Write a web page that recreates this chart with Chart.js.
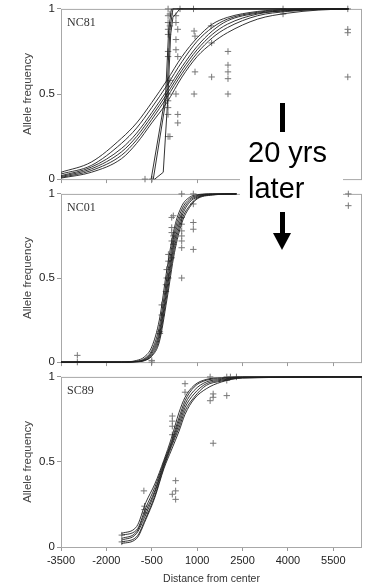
<!DOCTYPE html>
<html>
<head>
<meta charset="utf-8">
<script src="https://cdn.jsdelivr.net/npm/chart.js@4/dist/chart.umd.min.js"></script>
<style>
  body { margin: 0; background: #fff; }
  #wrap { position: relative; width: 372px; height: 585px; overflow: hidden; background: #fff; }
  canvas { position: absolute; left: 0; }
  #note { position: absolute; left: 240px; top: 140px; width: 103px; height: 68px; background: #fff; z-index: 2; }
  .bar { position: absolute; width: 5px; background: #000; z-index: 3; }
  .txt { position: absolute; left: 248px; font: 29px/29px 'Liberation Sans', Arial, sans-serif; color: #000; z-index: 3; white-space: nowrap; }
  .head { position: absolute; left: 273px; top: 233px; width: 0; height: 0; border-left: 9px solid transparent; border-right: 9px solid transparent; border-top: 17px solid #000; z-index: 3; }
</style>
</head>
<body>
<div id="wrap">
  <canvas id="p1" width="372" height="188" style="top:0"></canvas>
  <canvas id="p2" width="372" height="186" style="top:185px"></canvas>
  <canvas id="p3" width="372" height="217" style="top:368px"></canvas>
  <div id="note"></div>
  <div class="bar" style="left:280px;top:103px;height:29px"></div>
  <div class="txt" style="top:138px">20 yrs</div>
  <div class="txt" style="top:174px">later</div>
  <div class="bar" style="left:280px;top:212px;height:22px"></div>
  <div class="head"></div>
</div>
<script>
// axis ticks
const xTicks = [-3500, -2000, -500, 1000, 2500, 4000, 5500];
const yTicks = [0, 0.5, 1];

// NC81: fitted clines
const nc81X = [-3500, -2500, -1500, -1000, -500, 0, 500, 1000, 1500, 2000, 3000, 4000, 5000, 6000];
const nc81Fits = [
  [0.04, 0.10, 0.24, 0.33, 0.45, 0.58, 0.72, 0.83, 0.91, 0.95, 0.985, 0.997, 1, 1],
  [0.03, 0.08, 0.21, 0.30, 0.42, 0.55, 0.69, 0.81, 0.89, 0.94, 0.98, 0.995, 0.999, 1],
  [0.02, 0.07, 0.18, 0.27, 0.39, 0.52, 0.66, 0.78, 0.87, 0.93, 0.975, 0.99, 0.998, 1],
  [0.015, 0.06, 0.16, 0.25, 0.37, 0.50, 0.64, 0.76, 0.85, 0.91, 0.97, 0.99, 0.997, 1],
  [0.01, 0.05, 0.14, 0.23, 0.35, 0.48, 0.62, 0.74, 0.83, 0.89, 0.96, 0.985, 0.996, 1],
  [0.006, 0.04, 0.12, 0.21, 0.33, 0.45, 0.60, 0.72, 0.80, 0.86, 0.94, 0.975, 0.993, 1],
];
// NC81: steep step-like fits
const nc81StepX = [
  [-520, -40, 60, 150, 6000],
  [-450, 0, 100, 200, 6000],
  [-400, -120, 40, 125, 200, 430, 6000],
];
const nc81StepY = [
  [0, 0.5, 0.88, 1, 1],
  [0, 0.5, 0.88, 1, 1],
  [0, 0.04, 0.5, 0.85, 0.95, 1, 1],
];
const nc81PtX = [-723, -492, 40, 40, 40, 40, 40, 40, 40, 40, 40, 40, 40, 40, 100, 100, 100, 100,
  300, 300, 300, 300, 300, 360, 360, 360, 360, 434, 880, 900, 930, 930, 900,
  1460, 1480, 1480, 2020, 2020, 2020, 2020, 2020, 3840, 3840, 5980, 5980, 5980, 5980];
const nc81PtY = [0, 0, 1, 0.96, 0.92, 0.88, 0.85, 0.75, 0.72, 0.5, 0.46, 0.42, 0.38, 0.25, 0.97, 0.9, 0.58, 0.25,
  0.96, 0.92, 0.82, 0.76, 0.5, 0.88, 0.72, 0.38, 0.33, 1, 1, 0.87, 0.84, 0.63, 0.5,
  0.9, 0.8, 0.6, 0.75, 0.67, 0.63, 0.59, 0.5, 1, 0.97, 1, 0.88, 0.86, 0.6];

// NC01
const nc01X = [-3500, -1500, -1000, -750, -500, -250, 0, 250, 500, 750, 1000, 1500, 2300];
const nc01Fits = [
  [0, 0, 0.01, 0.03, 0.09, 0.25, 0.55, 0.8, 0.93, 0.98, 0.995, 1, 1],
  [0, 0, 0.005, 0.02, 0.07, 0.21, 0.5, 0.77, 0.91, 0.97, 0.99, 1, 1],
  [0, 0, 0.004, 0.015, 0.06, 0.18, 0.46, 0.74, 0.89, 0.96, 0.985, 0.998, 1],
  [0, 0, 0.003, 0.012, 0.05, 0.16, 0.43, 0.71, 0.87, 0.95, 0.98, 0.997, 1],
  [0, 0, 0.002, 0.01, 0.04, 0.14, 0.4, 0.68, 0.85, 0.93, 0.975, 0.995, 1],
  [0, 0, 0.002, 0.008, 0.035, 0.12, 0.37, 0.65, 0.83, 0.92, 0.97, 0.993, 1],
];
const nc01PtX = [-2960, -2960, -500, -500, -230, -230, -170, -170, -30, -30, -6, -6, 50, 50, 50,
  160, 160, 160, 160, 160, 213, 213, 213, 490, 490, 490, 490, 490, 490, 490, 490,
  874, 874, 874, 874, 874, 5998, 5998];
const nc01PtY = [0.04, 0, 0.01, 0, 0.18, 0.17, 0.34, 0.28, 0.46, 0.42, 0.55, 0.5, 0.5, 0.6, 0.64,
  0.62, 0.72, 0.77, 0.8, 0.86, 0.87, 0.75, 0.7, 1, 0.86, 0.82, 0.78, 0.75, 0.72, 0.68, 0.5,
  1, 0.94, 0.83, 0.79, 0.67, 1, 0.93];

// SC89
const sc89X = [-1500, -1000, -700, -400, -100, 150, 400, 600, 900, 1300, 1800, 2500, 6450];
const sc89Fits = [
  [0.08, 0.12, 0.26, 0.37, 0.51, 0.64, 0.79, 0.88, 0.95, 0.985, 0.995, 1, 1],
  [0.07, 0.10, 0.23, 0.35, 0.50, 0.62, 0.76, 0.86, 0.94, 0.98, 0.99, 1, 1],
  [0.05, 0.09, 0.21, 0.33, 0.49, 0.61, 0.74, 0.84, 0.92, 0.97, 0.985, 0.998, 1],
  [0.04, 0.08, 0.19, 0.32, 0.48, 0.60, 0.72, 0.82, 0.90, 0.96, 0.98, 0.997, 1],
  [0.03, 0.06, 0.17, 0.30, 0.47, 0.59, 0.70, 0.80, 0.88, 0.95, 0.975, 0.995, 1],
  [0.02, 0.05, 0.16, 0.29, 0.46, 0.57, 0.68, 0.78, 0.87, 0.93, 0.97, 0.993, 1],
];
const sc89PtX = [-1490, -1490, -760, -740, -740, -720, 180, 180, 180, 180, 180, 290, 290, 290,
  600, 600, 1430, 1430, 1530, 1530, 1530, 1980, 1980, 1980, 2100, 2300];
const sc89PtY = [0.07, 0.03, 0.33, 0.24, 0.22, 0.2, 0.77, 0.74, 0.71, 0.66, 0.31, 0.39, 0.33, 0.28,
  0.96, 0.91, 1, 0.86, 0.9, 0.88, 0.61, 1, 0.98, 0.89, 1, 1];

const sans = "'Liberation Sans', Arial, sans-serif";
const toPoints = (xs, ys) => xs.map((x, i) => ({x: x, y: ys[i]}));
const plain = v => String(v);

const curve = (xs, ys, smooth) => ({
  data: toPoints(xs, ys),
  showLine: true,
  borderColor: 'rgba(30, 30, 30, 0.9)',
  borderWidth: 1,
  pointRadius: 0,
  fill: false,
  cubicInterpolationMode: smooth ? 'monotone' : 'default',
  tension: 0,
  clip: 2,
});

const crosses = (xs, ys) => ({
  data: toPoints(xs, ys),
  showLine: false,
  pointStyle: 'cross',
  pointRadius: 3.2,
  borderColor: '#777',
  borderWidth: 1,
  clip: 5,
});

const framePlugin = {
  id: 'frame',
  beforeDatasetsDraw(chart) {
    const {ctx, chartArea: a} = chart;
    ctx.save();
    ctx.strokeStyle = '#a8a8a8';
    ctx.lineWidth = 1;
    ctx.strokeRect(a.left + 0.5, a.top + 0.5, a.right - a.left - 1, a.bottom - a.top);
    ctx.restore();
  },
  afterDraw(chart, args, opts) {
    const {ctx, chartArea: a} = chart;
    ctx.save();
    ctx.font = "12px 'Liberation Serif', 'Times New Roman', serif";
    ctx.fillStyle = '#333';
    ctx.textBaseline = 'alphabetic';
    ctx.fillText(opts.label, a.left + 6, a.top + 17);
    ctx.restore();
  }
};

const panel = (id, label, datasets, bottom) => new Chart(document.getElementById(id), {
  type: 'scatter',
  data: {datasets: datasets},
  plugins: [framePlugin],
  options: {
    responsive: false,
    animation: false,
    events: [],
    layout: {padding: {top: 8, right: 10, left: 0, bottom: 0}},
    scales: {
      x: {
        type: 'linear',
        min: -3500,
        max: 6450,
        afterBuildTicks: s => { s.ticks = xTicks.map(v => ({value: v})); },
        afterFit: s => { s.height = bottom ? 38 : 8; },
        grid: {drawOnChartArea: false, drawTicks: true, tickLength: 4, color: '#999'},
        border: {display: false},
        ticks: {display: bottom, autoSkip: false, maxRotation: 0, padding: 3, color: '#222', callback: plain, font: {family: sans, size: 11}},
        title: {display: bottom, text: 'Distance from center', color: '#333', padding: {top: 0, bottom: 0}, font: {family: sans, size: 10.5}},
      },
      y: {
        type: 'linear',
        min: 0,
        max: 1,
        afterBuildTicks: s => { s.ticks = yTicks.map(v => ({value: v})); },
        afterFit: s => { s.width = 61; },
        grid: {drawOnChartArea: false, drawTicks: true, tickLength: 4, color: '#999'},
        border: {display: false},
        ticks: {padding: 2, color: '#222', callback: plain, font: {family: sans, size: 11.5}},
        title: {display: true, text: 'Allele frequency', color: '#444', padding: {top: 21, bottom: 0}, font: {family: sans, size: 11.5}},
      },
    },
    plugins: {
      legend: {display: false},
      tooltip: {enabled: false},
      frame: {label: label},
    }
  }
});

panel('p1', 'NC81', [
  ...nc81Fits.map(ys => curve(nc81X, ys, true)),
  ...nc81StepX.map((xs, i) => curve(xs, nc81StepY[i], false)),
  crosses(nc81PtX, nc81PtY),
], false);

panel('p2', 'NC01', [
  ...nc01Fits.map(ys => curve(nc01X, ys, true)),
  crosses(nc01PtX, nc01PtY),
], false);

panel('p3', 'SC89', [
  ...sc89Fits.map(ys => curve(sc89X, ys, true)),
  crosses(sc89PtX, sc89PtY),
], true);
</script>
</body>
</html>
